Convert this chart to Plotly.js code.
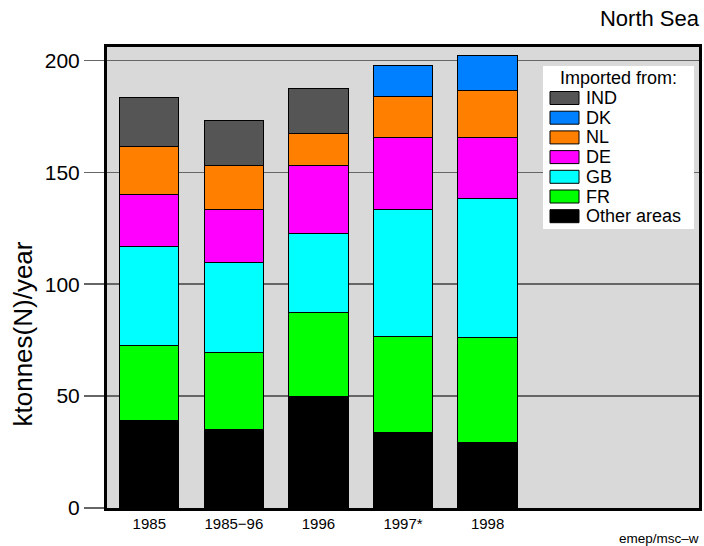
<!DOCTYPE html>
<html>
<head>
<meta charset="utf-8">
<script src="https://cdn.plot.ly/plotly-3.0.1.min.js"></script>
<style>html,body{margin:0;padding:0;background:#fff;}#chart{width:704px;height:546px;}</style>
</head>
<body>
<div id="chart"></div>
<script>
const categories = ["1985", "1985\u221296", "1996", "1997*", "1998"];
const otherAreas = [39.2, 35.1, 49.9, 33.7, 29.2];
const fr = [33.4, 34.5, 37.5, 42.8, 47.0];
const gb = [44.1, 40.0, 35.3, 57.1, 62.0];
const de = [23.3, 23.9, 30.3, 31.9, 27.5];
const nl = [21.7, 19.4, 14.5, 18.6, 21.0];
const dk = [0, 0, 0, 13.8, 15.3];
const ind = [21.7, 20.4, 19.8, 0, 0];
const seriesNames = ["Other areas", "FR", "GB", "DE", "NL", "DK", "IND"];
const seriesColors = ["#000000", "#00ff00", "#00ffff", "#ff00ff", "#ff8000", "#0080ff", "#555555"];
const seriesValues = [otherAreas, fr, gb, de, nl, dk, ind];
const yTicks = [0, 50, 100, 150, 200];
const legendTitle = "Imported from:";

const FONT = "Liberation Sans, Arial, sans-serif";
const W = 704, H = 546;
const M = {l: 107, r: 5, t: 47, b: 38};
const PW = W - M.l - M.r, PH = H - M.t - M.b;
// pixel -> paper helpers (layout only)
const px = v => (v - M.l) / PW;
const py = v => (H - M.b - v) / PH;

const traces = seriesNames.map((name, i) => ({
  type: "bar",
  name: name,
  x: categories,
  y: seriesValues[i],
  width: 0.7,
  marker: {color: seriesColors[i], line: {color: "#000000", width: 1}},
  hoverinfo: "name+y",
  showlegend: false
}));

// Custom legend box (top to bottom: reversed stacking order)
const shapes = [{
  type: "rect", xref: "paper", yref: "paper", layer: "above",
  x0: px(543), x1: px(694), y0: py(229), y1: py(66),
  fillcolor: "#ffffff", line: {width: 0}
}];
const annotations = [{
  text: legendTitle, xref: "paper", yref: "paper",
  x: px(618.5), y: py(78), xanchor: "center", yanchor: "middle",
  showarrow: false, font: {size: 18, family: FONT, color: "#000000"}
}];
const order = seriesNames.map((_, i) => i).reverse();
order.forEach((si, k) => {
  const cy = 98 + k * 19.7;
  shapes.push({
    type: "rect", xref: "paper", yref: "paper", layer: "above",
    x0: px(550), x1: px(579), y0: py(cy + 6.5), y1: py(cy - 6.5),
    fillcolor: seriesColors[si], line: {color: "#000000", width: 1}
  });
  annotations.push({
    text: seriesNames[si], xref: "paper", yref: "paper",
    x: px(584), y: py(cy), xanchor: "left", yanchor: "middle",
    showarrow: false, font: {size: 18, family: FONT, color: "#000000"}
  });
});

annotations.push({
  text: "ktonnes(N)/year",
  xref: "paper", yref: "paper",
  x: px(22.5), y: py(334),
  xanchor: "center", yanchor: "middle",
  textangle: -90,
  showarrow: false,
  font: {size: 26, family: FONT, color: "#000000"}
});
annotations.push({
  text: "emep/msc\u2013w",
  xref: "paper", yref: "paper",
  x: px(701), y: py(538),
  xanchor: "right", yanchor: "middle",
  showarrow: false,
  font: {size: 13.5, family: FONT, color: "#000000"}
});

const layout = {
  width: W,
  height: H,
  margin: M,
  paper_bgcolor: "#ffffff",
  plot_bgcolor: "#d9d9d9",
  barmode: "stack",
  bargap: 0.3,
  showlegend: false,
  font: {family: FONT, color: "#000000"},
  title: {
    text: "North Sea",
    font: {size: 22, family: FONT, color: "#000000"},
    xref: "container", yref: "container",
    x: 699 / W, xanchor: "right",
    y: 1 - 18 / H, yanchor: "middle"
  },
  xaxis: {
    type: "category",
    categoryorder: "array",
    categoryarray: categories,
    range: [-0.5, 6.5],
    showgrid: false,
    showline: true, linecolor: "#000000", linewidth: 3, mirror: true,
    ticks: "",
    tickfont: {size: 15, family: FONT, color: "#000000"},
    fixedrange: true
  },
  yaxis: {
    range: [0, 206],
    tickvals: yTicks,
    ticktext: yTicks.map(String),
    showgrid: true, gridcolor: "#666666", gridwidth: 1.5,
    zeroline: false,
    showline: true, linecolor: "#000000", linewidth: 3, mirror: true,
    ticks: "outside", ticklen: 20, tickwidth: 1.5, tickcolor: "#666666",
    tickfont: {size: 21, family: FONT, color: "#000000"},
    fixedrange: true
  },
  shapes: shapes,
  annotations: annotations
};

Plotly.newPlot("chart", traces, layout, {displayModeBar: false, staticPlot: true});
</script>
</body>
</html>
